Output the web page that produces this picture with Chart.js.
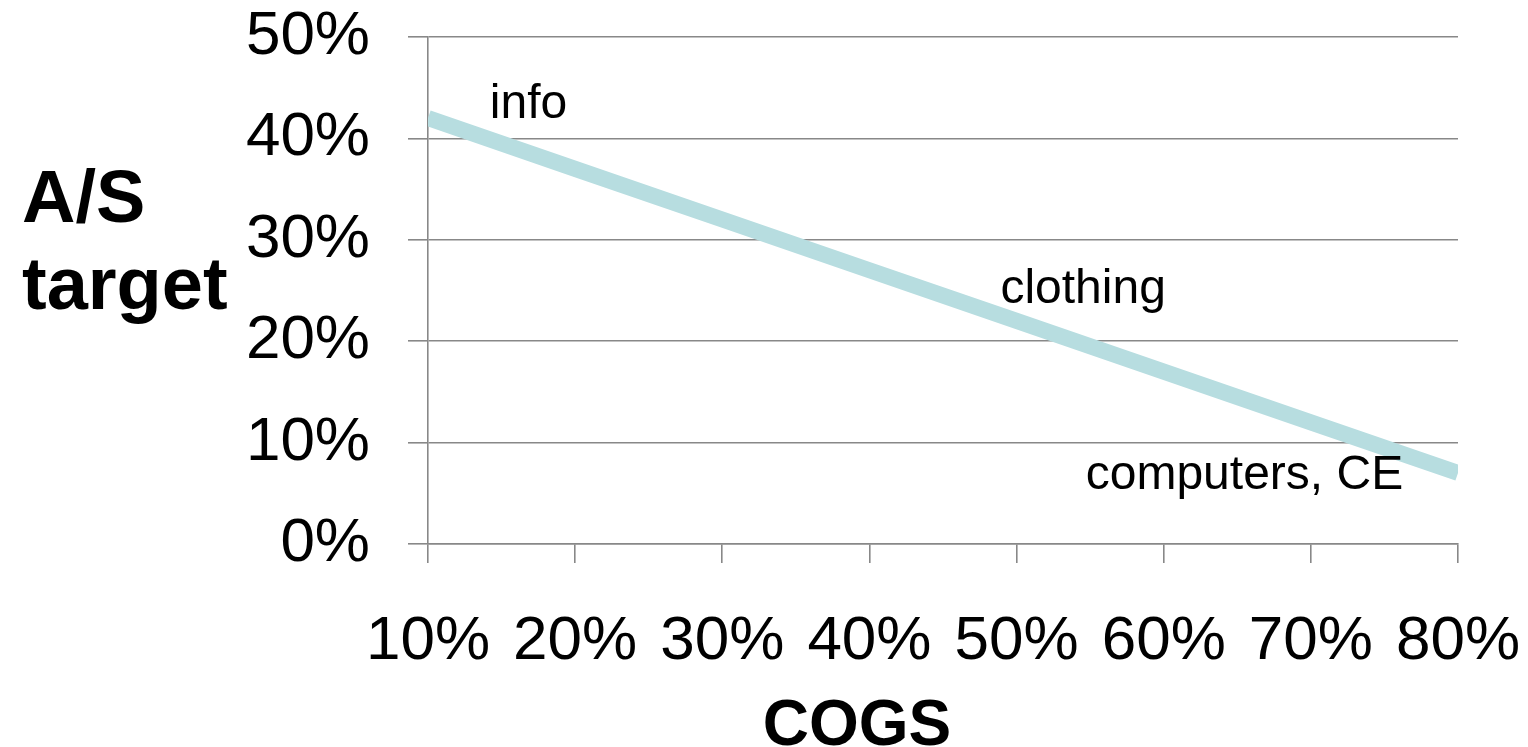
<!DOCTYPE html>
<html>
<head>
<meta charset="utf-8">
<script src="https://cdn.jsdelivr.net/npm/chart.js@4"></script>
<style>
  html, body { margin: 0; padding: 0; background: #fff; }
  #wrap { position: relative; width: 1528px; height: 747px; overflow: hidden; }
  canvas { position: absolute; left: 0; top: 0; }
  .ttl { position: absolute; font-family: "Liberation Sans", Arial, Helvetica, sans-serif; font-weight: bold; color: #000; white-space: nowrap; }
  #ytitle { left: 22px; top: 153px; font-size: 74px; line-height: 87px; }
  #xtitle { left: 657px; top: 691px; width: 400px; text-align: center; font-size: 64px; line-height: 64px; }
</style>
</head>
<body>
<div id="wrap">
  <canvas id="c" width="1528" height="747"></canvas>
  <div id="ytitle" class="ttl">A/S<br>target</div>
  <div id="xtitle" class="ttl">COGS</div>
</div>
<script>
// ---- data ----
const cogs = [10, 20, 30, 40, 50, 60, 70, 80];          // COGS (%)
const asTarget = [42, 37, 32, 27, 22, 17, 12, 7];       // A/S target (%)
const yTicks = [0, 10, 20, 30, 40, 50];
const xTicks = [10, 20, 30, 40, 50, 60, 70, 80];
const noteTexts = ["info", "clothing", "computers, CE"];
const noteCogs = [14.2, 48.9, 54.7];
const noteAS = [42.0, 23.8, 5.4];

const FONT = '"Liberation Sans", Arial, Helvetica, sans-serif';
const GRID = '#888888';

const notesPlugin = {
  id: 'notes',
  afterDatasetsDraw(chart) {
    const ctx = chart.ctx;
    const xs = chart.scales.x, ys = chart.scales.y;
    ctx.save();
    ctx.font = '48px ' + FONT;
    ctx.fillStyle = '#000';
    ctx.textAlign = 'left';
    ctx.textBaseline = 'alphabetic';
    noteTexts.forEach((t, i) => {
      ctx.fillText(t, xs.getPixelForValue(noteCogs[i]), ys.getPixelForValue(noteAS[i]));
    });
    ctx.restore();
  }
};

new Chart(document.getElementById('c'), {
  type: 'line',
  data: {
    datasets: [{
      data: cogs.map((x, i) => ({ x: x, y: asTarget[i] })),
      borderColor: '#b7dde0',
      borderWidth: 16,
      pointRadius: 0,
      tension: 0,
      fill: false
    }]
  },
  options: {
    responsive: false,
    animation: false,
    layout: { padding: { left: 0, right: 70, top: 37, bottom: 0 } },
    plugins: { legend: { display: false }, tooltip: { enabled: false } },
    scales: {
      x: {
        type: 'linear',
        min: 10, max: 80,
        afterBuildTicks: (s) => { s.ticks = xTicks.map(v => ({ value: v })); },
        afterFit: (s) => { s.height = 203; s.paddingLeft = 0; s.paddingRight = 0; },
        grid: { drawOnChartArea: false, drawTicks: true, tickLength: 19, color: GRID, lineWidth: 1.6 },
        border: { display: true, color: GRID, width: 1.6 },
        ticks: {
          font: { family: FONT, size: 62 },
          color: '#000',
          padding: 42,
          maxRotation: 0,
          autoSkip: false,
          callback: (v) => v + '%'
        }
      },
      y: {
        min: 0, max: 50,
        afterBuildTicks: (s) => { s.ticks = yTicks.map(v => ({ value: v })); },
        afterFit: (s) => { s.width = 428; s.paddingTop = 0; s.paddingBottom = 0; },
        grid: { drawOnChartArea: true, drawTicks: true, tickLength: 20, color: GRID, lineWidth: 1.6 },
        border: { display: true, color: GRID, width: 1.6 },
        ticks: {
          font: { family: FONT, size: 62 },
          color: '#000',
          padding: 38,
          autoSkip: false,
          callback: (v) => v + '%'
        }
      }
    }
  },
  plugins: [notesPlugin]
});
</script>
</body>
</html>
